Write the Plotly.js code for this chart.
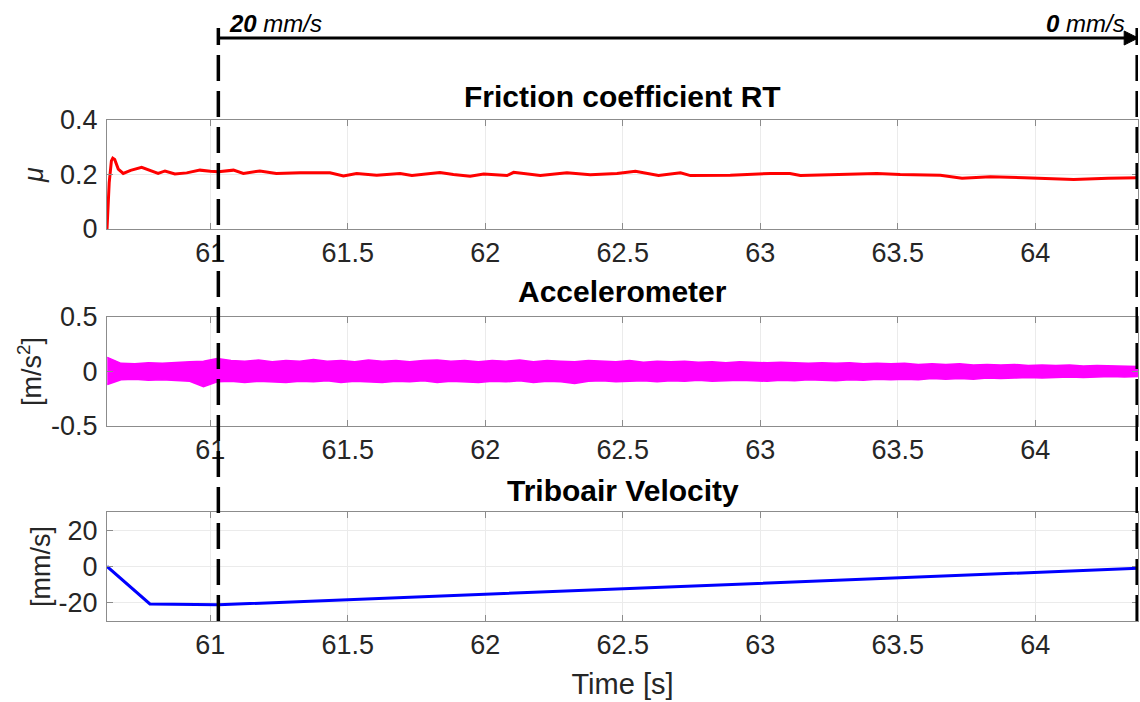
<!DOCTYPE html>
<html>
<head>
<meta charset="utf-8">
<script src="https://cdn.plot.ly/plotly-3.0.1.min.js"></script>
<style>html,body{margin:0;padding:0;background:#fff;}#chart{width:1140px;height:702px;}</style>
</head>
<body>
<div id="chart"></div>
<script>
// ---------- data ----------
const timeRange = [60.624, 64.374];
const startT = 61.029;   // 20 mm/s marker
const endT = 64.371;     // 0 mm/s marker
const xTickVals = [61, 61.5, 62, 62.5, 63, 63.5, 64];
const xTickText = ["61", "61.5", "62", "62.5", "63", "63.5", "64"];
const muTickVals = [0, 0.2, 0.4];
const muTickText = ["0", "0.2", "0.4"];
const accTickVals = [-0.5, 0, 0.5];
const accTickText = ["-0.5", "0", "0.5"];
const velTickVals = [-20, 0, 20];
const velTickText = ["-20", "0", "20"];

const fricT = [60.624, 60.632, 60.640, 60.645, 60.652, 60.665, 60.683, 60.71, 60.75, 60.79, 60.81, 60.835, 60.871, 60.914, 60.962, 61.0, 61.029, 61.084, 61.12, 61.18, 61.24, 61.326, 61.435, 61.484, 61.532, 61.605, 61.69, 61.733, 61.835, 61.884, 61.945, 61.994, 62.079, 62.103, 62.2, 62.297, 62.382, 62.479, 62.546, 62.63, 62.71, 62.746, 62.891, 63.037, 63.108, 63.146, 63.29, 63.424, 63.509, 63.655, 63.734, 63.837, 63.96, 64.14, 64.266, 64.374];
const fricMu = [0, 0.17, 0.25, 0.26, 0.255, 0.22, 0.204, 0.215, 0.226, 0.21, 0.204, 0.213, 0.202, 0.206, 0.216, 0.212, 0.21, 0.216, 0.204, 0.213, 0.204, 0.206, 0.206, 0.195, 0.204, 0.197, 0.204, 0.196, 0.207, 0.2, 0.194, 0.202, 0.196, 0.208, 0.196, 0.206, 0.199, 0.204, 0.212, 0.196, 0.206, 0.196, 0.197, 0.204, 0.204, 0.196, 0.199, 0.204, 0.2, 0.197, 0.186, 0.192, 0.188, 0.182, 0.186, 0.188];

const accT = [60.625, 60.675, 60.725, 60.775, 60.825, 60.875, 60.925, 60.975, 61.025, 61.075,
  61.125, 61.175, 61.225, 61.275, 61.325, 61.375, 61.425, 61.475, 61.525, 61.575,
  61.625, 61.675, 61.725, 61.775, 61.825, 61.875, 61.925, 61.975, 62.025, 62.075,
  62.125, 62.175, 62.225, 62.275, 62.325, 62.375, 62.425, 62.475, 62.525, 62.575,
  62.625, 62.675, 62.725, 62.775, 62.825, 62.875, 62.925, 62.975, 63.025, 63.075,
  63.125, 63.175, 63.225, 63.275, 63.325, 63.375, 63.425, 63.475, 63.525, 63.575,
  63.625, 63.675, 63.725, 63.775, 63.825, 63.875, 63.925, 63.975, 64.025, 64.075,
  64.125, 64.175, 64.225, 64.275, 64.325, 64.374];
const accUpper = [0.13, 0.075, 0.07, 0.08, 0.075, 0.085, 0.09, 0.095, 0.12, 0.10,
  0.095, 0.105, 0.09, 0.10, 0.095, 0.11, 0.095, 0.10, 0.09, 0.105,
  0.095, 0.10, 0.09, 0.10, 0.105, 0.095, 0.10, 0.09, 0.10, 0.095,
  0.105, 0.09, 0.10, 0.095, 0.09, 0.10, 0.095, 0.09, 0.10, 0.085,
  0.095, 0.09, 0.095, 0.085, 0.09, 0.08, 0.09, 0.085, 0.08, 0.085,
  0.08, 0.075, 0.08, 0.075, 0.08, 0.07, 0.075, 0.07, 0.075, 0.065,
  0.07, 0.065, 0.07, 0.06, 0.065, 0.06, 0.065, 0.055, 0.06, 0.055,
  0.06, 0.05, 0.055, 0.05, 0.05, 0.045];
const accLower = [-0.12, -0.075, -0.07, -0.08, -0.075, -0.085, -0.09, -0.14, -0.095, -0.09,
  -0.10, -0.09, -0.095, -0.10, -0.09, -0.095, -0.085, -0.10, -0.09, -0.095,
  -0.10, -0.09, -0.095, -0.085, -0.10, -0.09, -0.095, -0.10, -0.09, -0.095,
  -0.085, -0.10, -0.09, -0.095, -0.11, -0.09, -0.085, -0.095, -0.09, -0.085,
  -0.095, -0.085, -0.09, -0.08, -0.09, -0.085, -0.08, -0.085, -0.09, -0.08,
  -0.085, -0.075, -0.08, -0.085, -0.075, -0.08, -0.07, -0.075, -0.07, -0.075,
  -0.065, -0.07, -0.065, -0.07, -0.06, -0.065, -0.06, -0.055, -0.06, -0.055,
  -0.05, -0.055, -0.05, -0.045, -0.05, -0.045];

const velT = [60.624, 60.78, 61.03, 62.0, 63.0, 63.5, 64.0, 64.374];
const velV = [0, -20.6, -21.1, -15.3, -9.4, -6.3, -3.2, -1.0];

const subTitles = ["Friction coefficient RT", "Accelerometer", "Triboair Velocity"];
const yTitles = ["<i>μ</i>", "[m/s<sup>2</sup>]", "[mm/s]"];
const speedLabels = ["<b><i>20</i></b><i> mm/s</i>", "<b><i>0</i></b><i> mm/s</i>"];

// ---------- layout geometry (pixels) ----------
const W = 1140, H = 702, ML = 107, MR = 2, MT = 120, MB = 81;
const PH = H - MT - MB, PW = W - ML - MR;
const py = p => (H - MB - p) / PH;            // pixel y -> paper y
const dom = (top, bot) => [py(bot), py(top)];

const FAM = "Liberation Sans, Arial, sans-serif";
const tickFont = {family: FAM, size: 27, color: "#262626"};
const gridC = "#ebebeb", lineC = "#8c8c8c";

function xAx(anchor, withTitle) {
  const a = {
    range: timeRange, anchor: anchor, tickvals: xTickVals, ticktext: xTickText,
    ticks: "inside", ticklen: 6, tickcolor: lineC, tickwidth: 1,
    showline: true, linecolor: lineC, linewidth: 1, mirror: "ticks",
    showgrid: true, gridcolor: gridC, zeroline: false, tickfont: tickFont,
    fixedrange: true
  };
  if (withTitle) a.title = {text: "Time [s]", font: {family: FAM, size: 29, color: "#262626"}, standoff: 14};
  return a;
}
function yAx(anchor, range, tv, tt, title, domain, standoff) {
  return {
    range: range, anchor: anchor, domain: domain, tickvals: tv, ticktext: tt,
    ticks: "inside", ticklen: 6, tickcolor: lineC, tickwidth: 1,
    showline: true, linecolor: lineC, linewidth: 1, mirror: "ticks",
    showgrid: true, gridcolor: gridC, zeroline: false, tickfont: tickFont,
    ticklabelstandoff: 3,
    title: {text: title, font: {family: FAM, size: 27, color: "#262626"}, standoff: standoff},
    fixedrange: true
  };
}

const traces = [
  {x: fricT, y: fricMu, xaxis: "x", yaxis: "y", type: "scatter", mode: "lines",
   line: {color: "#ff0000", width: 3}, hoverinfo: "skip"},
  {x: accT, y: accLower, xaxis: "x2", yaxis: "y2", type: "scatter", mode: "lines",
   line: {color: "#ff00ff", width: 1.5}, hoverinfo: "skip"},
  {x: accT, y: accUpper, xaxis: "x2", yaxis: "y2", type: "scatter", mode: "lines",
   fill: "tonexty", fillcolor: "#ff00ff", line: {color: "#ff00ff", width: 1.5}, hoverinfo: "skip"},
  {x: velT, y: velV, xaxis: "x3", yaxis: "y3", type: "scatter", mode: "lines",
   line: {color: "#0000ff", width: 3}, hoverinfo: "skip"}
];

const dashLine = {color: "#000000", width: 3.5, dash: "26px,10px"};

const titleFont = {family: FAM, size: 30, color: "#000000", weight: "bold"};
const speedFont = {family: FAM, size: 24, color: "#000000"};

const layout = {
  width: W, height: H,
  margin: {l: ML, r: MR, t: MT, b: MB, pad: 0},
  paper_bgcolor: "#ffffff", plot_bgcolor: "#ffffff",
  showlegend: false,
  xaxis: xAx("y", false),
  xaxis2: xAx("y2", false),
  xaxis3: xAx("y3", true),
  yaxis: yAx("x", [0, 0.4], muTickVals, muTickText, yTitles[0], dom(120, 229), 8),
  yaxis2: yAx("x2", [-0.5, 0.5], accTickVals, accTickText, yTitles[1], dom(317, 426), 1),
  yaxis3: yAx("x3", [-30, 30], velTickVals, velTickText, yTitles[2], dom(512, 621), 0),
  shapes: [
    {type: "line", xref: "x", yref: "paper", x0: startT, x1: startT, y0: 0, y1: py(28), line: dashLine, layer: "above"},
    {type: "line", xref: "x", yref: "paper", x0: endT, x1: endT, y0: 0, y1: py(28), line: dashLine, layer: "above"},
    // horizontal speed arrow
    {type: "line", xref: "x", yref: "paper", x0: startT, x1: endT, y0: py(38), y1: py(38),
     line: {color: "#000000", width: 3}, layer: "above"},
    {type: "path", xref: "x", xsizemode: "pixel", xanchor: endT, yref: "paper", ysizemode: "pixel", yanchor: py(38),
     path: "M 1 0 L -13 -7 L -13 7 Z", fillcolor: "#000000", line: {color: "#000000", width: 1}, layer: "above"}
  ],
  annotations: [
    {text: subTitles[0], xref: "paper", yref: "paper", x: 0.5, y: py(97), xanchor: "center", yanchor: "middle", showarrow: false, font: titleFont},
    {text: subTitles[1], xref: "paper", yref: "paper", x: 0.5, y: py(291), xanchor: "center", yanchor: "middle", showarrow: false, font: titleFont},
    {text: subTitles[2], xref: "paper", yref: "paper", x: 0.5, y: py(490), xanchor: "center", yanchor: "middle", showarrow: false, font: titleFont},
    {text: speedLabels[0], xref: "x", yref: "paper", x: startT, y: py(23), xanchor: "left", yanchor: "middle", xshift: 9, showarrow: false, font: speedFont},
    {text: speedLabels[1], xref: "x", yref: "paper", x: endT, y: py(23), xanchor: "right", yanchor: "middle", xshift: -10, showarrow: false, font: speedFont}
  ]
};

Plotly.newPlot("chart", traces, layout, {staticPlot: true, displayModeBar: false}).then(function () {
  // drop empty placeholder text nodes (untitled axes)
  document.querySelectorAll("#chart svg text").forEach(function (t) {
    if (!t.textContent || !t.textContent.trim()) t.parentNode.removeChild(t);
  });
});
</script>
</body>
</html>
